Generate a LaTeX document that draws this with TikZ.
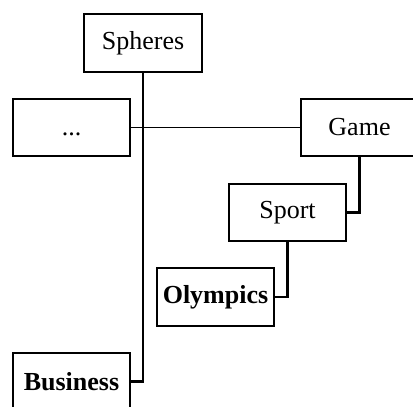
\documentclass[tikz,border=0pt]{standalone}
\usepackage{fontspec}
\setmainfont{Liberation Serif}
\begin{document}
\begin{tikzpicture}[x=1pt,y=-1pt,
  box/.style={draw,line width=2.2pt,rectangle,minimum width=117.5pt,minimum height=57.5pt,inner sep=0pt,font=\fontsize{26}{30}\selectfont},
  conn/.style={line width=2.2pt},
  thinconn/.style={line width=1.4pt}]
\useasboundingbox (0,0) rectangle (413,407);
\node[box] (sph) at (143,43) {Spheres};
\node[box] (dots) at (71.5,127.5) {\vphantom{Game}...};
\node[box] (game) at (359.5,127.5) {Game};
\node[box] (sport) at (287.5,212.5) {Sport};
\node[box,font=\fontsize{26}{30}\selectfont\bfseries] (oly) at (215.5,297) {Olympics};
\node[box,font=\fontsize{26}{30}\selectfont\bfseries] (bus) at (71.5,381.5) {Business};
\draw[conn] (sph.south) |- (bus.east);
\draw[thinconn] (dots.east) -- (game.west);
\draw[conn] (game.south) |- (sport.east);
\draw[conn] (sport.south) |- (oly.east);
\end{tikzpicture}
\end{document}
